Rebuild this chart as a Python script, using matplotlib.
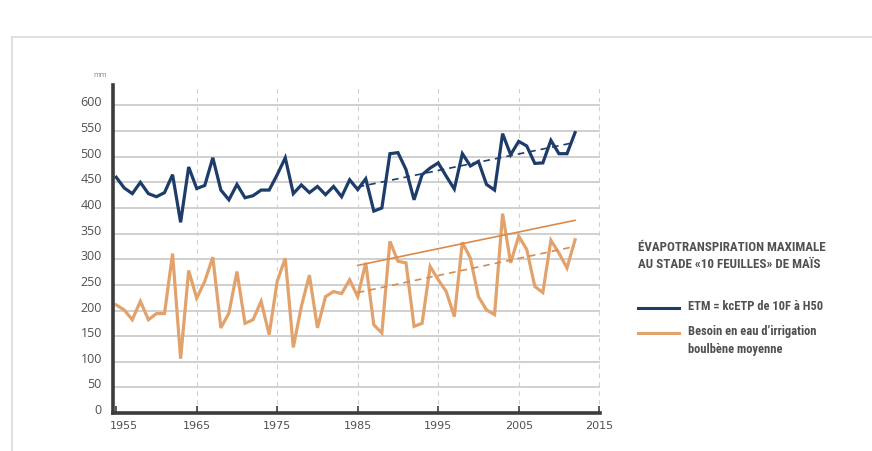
import matplotlib
matplotlib.use("Agg")
import matplotlib.pyplot as plt
import matplotlib.transforms as mtransforms
from matplotlib.lines import Line2D
from matplotlib import font_manager

# ---------------- data ----------------
years = list(range(1955, 2013))
etm = [460, 439, 428, 450, 428, 422, 430, 465, 372, 480,
       438, 444, 498, 435, 416, 446, 420, 424, 435, 435,
       465, 498, 428, 445, 430, 442, 426, 442, 422, 455,
       436, 457, 394, 400, 506, 508, 475, 416, 465, 478,
       488, 462, 437, 506, 482, 491, 446, 435, 545, 504,
       530, 521, 487, 488, 532, 506, 506, 547]
besoin = [211, 201, 182, 218, 182, 194, 194, 311, 106, 278,
          224, 257, 304, 166, 195, 276, 175, 182, 218, 153,
          257, 302, 128, 208, 269, 166, 227, 237, 233, 260,
          227, 293, 172, 156, 335, 296, 293, 169, 175, 286,
          260, 237, 188, 333, 302, 227, 201, 192, 389, 293,
          345, 319, 247, 235, 337, 312, 283, 338]
trend_years = [1985, 2012]
etm_trend = [441, 528]
besoin_trend_low = [235, 325]
besoin_trend_high = [288, 376]

x_ticks = [1955, 1965, 1975, 1985, 1995, 2005, 2015]
y_ticks = list(range(0, 601, 50))

title_lines = ["ÉVAPOTRANSPIRATION MAXIMALE", "AU STADE «10 FEUILLES» DE MAÏS"]
label_etm = "ETM = kcETP de 10F à H50"
label_besoin = ["Besoin en eau d’irrigation", "boulbène moyenne"]

# ---------------- style ----------------
BLUE = "#1d3c69"
ORANGE = "#e2a26c"
ORANGE_TREND = "#d98a4c"
DARK = "#3a3c3e"
GRID = "#c4c4c4"
TXT = "#505050"

names = {f.name for f in font_manager.fontManager.ttflist}
cond = ["Liberation Sans Narrow", "Roboto Condensed", "DejaVu Sans"]
cond = [c for c in cond if c in names] or ["DejaVu Sans"]
tickfont = "Open Sans" if "Open Sans" in names else "DejaVu Sans"

W, H = 872, 451
fig = plt.figure(figsize=(W / 100, H / 100), dpi=100)

def fx(px):
    return px / W

def fy(py):
    return 1 - py / H

ax = fig.add_axes([fx(113), fy(413), (600 - 113) / W, (413 - 85) / H])
ax.set_xlim(1954.6, 2015.1)
ax.set_ylim(0, 640)

# grid
for v in y_ticks[1:]:
    ax.axhline(v, color=GRID, lw=1.1, zorder=1)
for xv in x_ticks[1:]:
    ax.axvline(xv, color="#d0d0d0", lw=0.8, ls=(0, (4, 4)), zorder=1)

# series
ax.plot(years, etm, color=BLUE, lw=2.3, zorder=4, solid_joinstyle="miter")
ax.plot(years, besoin, color=ORANGE, lw=2.3, zorder=4, solid_joinstyle="miter")
ax.plot(trend_years, etm_trend, color=BLUE, lw=1.2, ls=(0, (4, 3)), zorder=5)
ax.plot(trend_years, besoin_trend_low, color=ORANGE_TREND, lw=1.2, ls=(0, (4, 3)), zorder=5)
ax.plot(trend_years, besoin_trend_high, color=ORANGE_TREND, lw=1.2, zorder=5)

# spines
for s in ["top", "right"]:
    ax.spines[s].set_visible(False)
for s in ["left", "bottom"]:
    ax.spines[s].set_color(DARK)
    ax.spines[s].set_linewidth(2.6)
    ax.spines[s].set_zorder(6)

ax.set_xticks(x_ticks)
ax.set_xticklabels([str(t) for t in x_ticks], fontsize=8, color=TXT, family="DejaVu Sans")
ax.set_yticks(y_ticks)
ax.set_yticklabels([str(t) for t in y_ticks], fontsize=9, color=TXT, family=tickfont)
ax.tick_params(axis="x", direction="in", length=5, width=1.2, color=DARK, pad=6)
ax.tick_params(axis="y", length=0, pad=8)

up = mtransforms.ScaledTranslation(0, 4 / 100, fig.dpi_scale_trans)
for lab in ax.get_yticklabels():
    lab.set_transform(lab.get_transform() + up)
first = ax.get_xticklabels()[0]
first.set_transform(first.get_transform() + mtransforms.ScaledTranslation(8 / 100, 0, fig.dpi_scale_trans))

# unit
fig.text(fx(100), fy(75), "mm", fontsize=5, color="#8a8a8a", ha="center", va="center")

# frame
fig.add_artist(Line2D([fx(12), fx(872)], [fy(37), fy(37)], color="#dadada", lw=1.2))
fig.add_artist(Line2D([fx(12), fx(12)], [fy(37), fy(451)], color="#dadada", lw=1.2))

# legend
fig.text(fx(638), fy(247), title_lines[0], fontsize=9.4, fontweight="bold", color=TXT,
         family=cond, va="center", ha="left")
fig.text(fx(638), fy(265), title_lines[1], fontsize=9.4, fontweight="bold", color=TXT,
         family=cond, va="center", ha="left")
fig.add_artist(Line2D([fx(638), fx(679)], [fy(308), fy(308)], color=BLUE, lw=2.2))
fig.add_artist(Line2D([fx(638), fx(679)], [fy(333), fy(333)], color=ORANGE, lw=2.2))
fig.text(fx(688), fy(307), label_etm, fontsize=9, fontweight="bold", color=TXT,
         family=cond, va="center", ha="left")
fig.text(fx(688), fy(332), label_besoin[0], fontsize=9, fontweight="bold", color=TXT,
         family=cond, va="center", ha="left")
fig.text(fx(688), fy(349), label_besoin[1], fontsize=9, fontweight="bold", color=TXT,
         family=cond, va="center", ha="left")

fig.savefig("out.png", dpi=100, facecolor="white")
